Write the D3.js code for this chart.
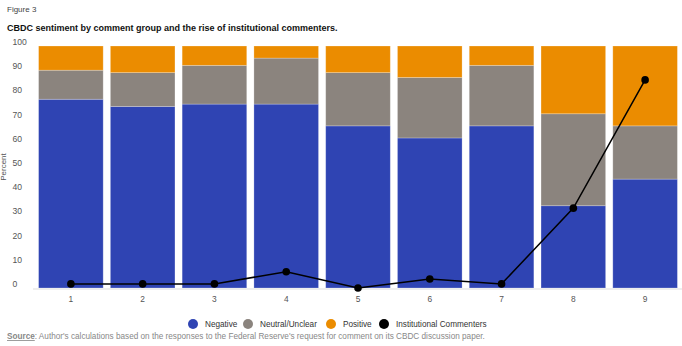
<!DOCTYPE html>
<html>
<head>
<meta charset="utf-8">
<script src="https://cdn.jsdelivr.net/npm/d3@7"></script>
<style>
  body { margin: 0; background: #fff; }
  svg text { font-family: "Liberation Sans", Arial, sans-serif; }
</style>
</head>
<body>
<div id="chart"></div>
<script>
const groups = ["1", "2", "3", "4", "5", "6", "7", "8", "9"];
const negative = [78, 75, 76, 76, 67, 62, 67, 34, 45];
const neutral = [12, 14, 16, 19, 22, 25, 25, 38, 22];
const positive = [10, 11, 8, 5, 11, 13, 8, 28, 33];
const institutional = [1.7, 1.7, 1.7, 6.7, 0, 3.7, 1.7, 33, 86];
const yTicks = [0, 10, 20, 30, 40, 50, 60, 70, 80, 90, 100];

const w = 682;
const h = 346;
const colors = { neg: "#2f44b3", neu: "#8b847e", pos: "#eb8c00" };

const svg = d3.select("#chart").append("svg").attr("width", w).attr("height", h);

svg.append("text").attr("x", 7).attr("y", 12)
  .attr("font-size", 8).attr("fill", "#444").text("Figure 3");
svg.append("text").attr("x", 7).attr("y", 31)
  .attr("font-size", 9).attr("font-weight", "bold").attr("fill", "#111")
  .text("CBDC sentiment by comment group and the rise of institutional commenters.");

const x = d3.scaleBand().domain(groups).range([35, 681])
  .paddingInner(0.1).paddingOuter(0.05);
const y = d3.scaleLinear().domain([0, 100]).range([288, 46]);

// y labels sit a little above the value
svg.append("g").selectAll("text").data(yTicks).enter().append("text")
  .attr("x", 12.5).attr("y", d => y(d) - 1)
  .attr("font-size", 8.6).attr("fill", "#555").text(d => d);

svg.append("text")
  .attr("transform", "translate(6," + 167 + ") rotate(-90)")
  .attr("text-anchor", "middle").attr("font-size", 8).attr("fill", "#555")
  .text("Percent");

const stack = groups.map((g, i) => ({
  g: g,
  parts: [
    { k: "neg", y0: 0, y1: negative[i] },
    { k: "neu", y0: negative[i], y1: negative[i] + neutral[i] },
    { k: "pos", y0: negative[i] + neutral[i], y1: negative[i] + neutral[i] + positive[i] }
  ]
}));

svg.append("g").selectAll("g").data(stack).enter().append("g")
  .selectAll("rect").data(d => d.parts.map(p => Object.assign({ g: d.g }, p)))
  .enter().append("rect")
  .attr("x", d => x(d.g))
  .attr("width", x.bandwidth())
  .attr("y", d => y(d.y1))
  .attr("height", d => y(d.y0) - y(d.y1))
  .attr("fill", d => colors[d.k])
  .attr("stroke", "rgba(255,255,255,0.3)")
  .attr("stroke-width", 0.8);

// x axis
const xAxis = svg.append("g").attr("transform", "translate(0,289)")
  .call(d3.axisBottom(x).tickSize(0).tickPadding(7));
xAxis.select(".domain").attr("stroke", "#ddd").attr("d", "M33,0H682");
xAxis.selectAll("text").attr("font-size", 8.4).attr("fill", "#555")
  .attr("font-family", "Liberation Sans, Arial, sans-serif");

const cx = g => x(g) + x.bandwidth() / 2;
svg.append("path").datum(institutional)
  .attr("fill", "none").attr("stroke", "#000").attr("stroke-width", 1.5)
  .attr("d", d3.line().x((d, i) => cx(groups[i])).y(d => y(d)));
svg.append("g").selectAll("circle").data(institutional).enter().append("circle")
  .attr("cx", (d, i) => cx(groups[i])).attr("cy", d => y(d))
  .attr("r", 3.8).attr("fill", "#000");

// legend
const legend = [
  { label: "Negative", color: colors.neg, x: 193 },
  { label: "Neutral/Unclear", color: colors.neu, x: 248 },
  { label: "Positive", color: colors.pos, x: 331 },
  { label: "Institutional Commenters", color: "#000", x: 384 }
];
const lg = svg.append("g").selectAll("g").data(legend).enter().append("g");
lg.append("circle").attr("cx", d => d.x).attr("cy", 324).attr("r", 5).attr("fill", d => d.color);
lg.append("text").attr("x", d => d.x + 12).attr("y", 327)
  .attr("font-size", 8.2).attr("fill", "#333").text(d => d.label);

const src = svg.append("text").attr("x", 7).attr("y", 339)
  .attr("font-size", 8.2).attr("fill", "#888");
src.append("tspan").attr("font-weight", "bold").attr("text-decoration", "underline").text("Source");
src.append("tspan").text(": Author's calculations based on the responses to the Federal Reserve's request for comment on its CBDC discussion paper.");
</script>
</body>
</html>
